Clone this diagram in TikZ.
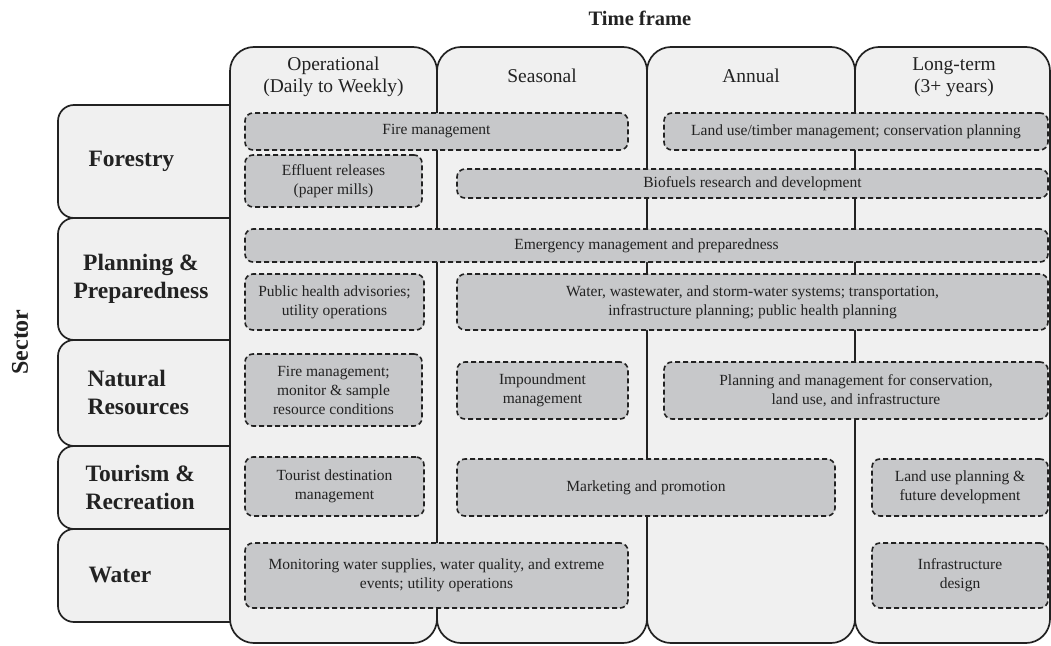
\documentclass[tikz,border=0pt]{standalone}
\usepackage{fontspec}
\setmainfont{Liberation Serif}
\definecolor{lightbg}{HTML}{F0F0F0}
\definecolor{boxgray}{HTML}{C7C8CA}
\definecolor{linecol}{HTML}{222222}
\begin{document}
\begin{tikzpicture}[x=1pt,y=-1pt,
  colbox/.style={draw=linecol, line width=1.7pt, fill=lightbg, rounded corners=24pt, minimum width=#1, minimum height=596pt, inner sep=0pt},
  secbox/.style={draw=linecol, line width=1.7pt, fill=lightbg, rounded corners=16pt, minimum width=187pt, minimum height=#1, inner sep=0pt},
  dbox/.style={draw=linecol, line width=1.6pt, dash pattern=on 5pt off 3pt, fill=boxgray, rounded corners=8pt, align=center, inner sep=0pt, text=linecol, font=\fontsize{15.5}{19}\selectfont},
  hdr/.style={align=center, text=linecol, font=\fontsize{19.5}{22}\selectfont},
  seclab/.style={align=left, anchor=west, text=linecol, font=\fontsize{23.5}{28}\selectfont\bfseries},
  ttl/.style={text=linecol, font=\fontsize{20.5}{24}\selectfont\bfseries}
]
\useasboundingbox (0,0) rectangle (1051,645);
\fill[white] (0,0) rectangle (1051,645);

% titles
\node[ttl] (tf) at (640,18) {Time frame};
\node[ttl, rotate=90, font=\fontsize{24}{28}\selectfont\bfseries] (sec) at (20,342) {Sector};

% sector boxes
\node[secbox=113pt] (sF) at (151.5,161.5) {};
\node[secbox=122pt] (sP) at (151.5,279) {};
\node[secbox=106pt] (sN) at (151.5,393) {};
\node[secbox=83pt] (sT) at (151.5,487.5) {};
\node[secbox=93pt] (sW) at (151.5,575.5) {};

% columns
\node[colbox=207pt] (c1) at (333.5,345) {};
\node[colbox=210pt] (c2) at (542,345) {};
\node[colbox=208pt] (c3) at (751,345) {};
\node[colbox=195pt] (c4) at (952.5,345) {};

% sector labels
\node[seclab] (lF) at (85,161) {Forestry};
\node[seclab, anchor=center, align=center] (lP) at (141,279) {Planning \&\\Preparedness};
\node[seclab] (lN) at (84,392) {Natural\\Resources};
\node[seclab] (lT) at (82,487) {Tourism \&\\Recreation};
\node[seclab] (lW) at (85,575) {Water};

% headers
\node[hdr] (h1) at (333.5,77) {Operational\\(Daily to Weekly)};
\node[hdr] (h2) at (542,76) {Seasonal};
\node[hdr] (h3) at (751,76) {Annual};
\node[hdr] (h4) at (954,77) {Long-term\\(3+ years)};

% activity boxes
\node[dbox, minimum width=383pt, minimum height=37pt] (b1) at (436.5,131.5) {Fire management};
\node[dbox, minimum width=384pt, minimum height=37pt] (b2) at (856,131.5) {Land use/timber management; conservation planning};
\node[dbox, minimum width=177pt, minimum height=52pt] (b3) at (333.5,181) {Effluent releases\\(paper mills)};
\node[dbox, minimum width=591pt, minimum height=29pt] (b4) at (752.5,183.5) {Biofuels research and development};
\node[dbox, minimum width=803pt, minimum height=33pt] (b5) at (646.5,245.5) {Emergency management and preparedness};
\node[dbox, minimum width=179pt, minimum height=56pt] (b6) at (334.5,302) {Public health advisories;\\utility operations};
\node[dbox, minimum width=591pt, minimum height=56pt] (b7) at (752.5,302) {Water, wastewater, and storm-water systems; transportation,\\infrastructure planning; public health planning};
\node[dbox, minimum width=177pt, minimum height=72pt] (b8) at (333.5,390) {Fire management;\\monitor \& sample\\resource conditions};
\node[dbox, minimum width=171pt, minimum height=57pt] (b9) at (542.5,390.5) {Impoundment\\management};
\node[dbox, minimum width=384pt, minimum height=57pt] (b10) at (856,390.5) {Planning and management for conservation,\\land use, and infrastructure};
\node[dbox, minimum width=179pt, minimum height=59pt] (b11) at (334.5,486.5) {Tourist destination\\management};
\node[dbox, minimum width=378pt, minimum height=57pt] (b12) at (646,487.5) {Marketing and promotion};
\node[dbox, minimum width=176pt, minimum height=57pt] (b13) at (960,487.5) {Land use planning \&\\future development};
\node[dbox, minimum width=383pt, minimum height=65pt] (b14) at (436.5,575.5) {Monitoring water supplies, water quality, and extreme\\events; utility operations};
\node[dbox, minimum width=176pt, minimum height=65pt] (b15) at (960,575.5) {Infrastructure\\design};
\end{tikzpicture}
\end{document}
